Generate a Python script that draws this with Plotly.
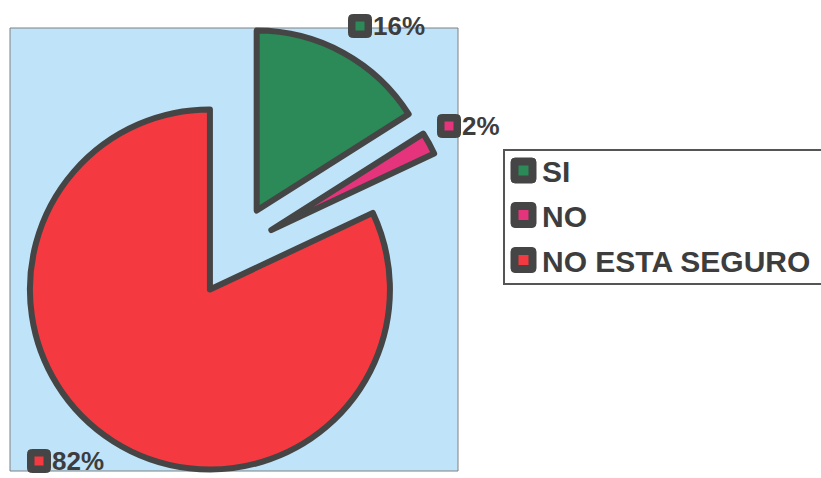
import plotly.graph_objects as go

W, H = 821, 478

labels = ["SI", "NO", "NO ESTA SEGURO"]
values = [16, 2, 82]
colors = ["#2b8a57", "#e5347b", "#f43a40"]
pulls = [0.25, 0.23, 0.26]

OUTLINE = "#454545"
TEXT = "#3d3d3d"
BG = "#bfe3f8"
FONT = "Liberation Sans, Arial, sans-serif"

def px(x):
    return x / W

def py(y):
    return 1 - y / H

fig = go.Figure()

fig.add_trace(go.Pie(
    labels=labels,
    values=values,
    sort=False,
    direction="clockwise",
    rotation=0,
    pull=pulls,
    textinfo="none",
    hoverinfo="label+percent",
    marker=dict(colors=colors, line=dict(color=OUTLINE, width=6)),
    domain=dict(x=[px(8.2), px(461.8)], y=[py(476.8), py(23.2)]),
    showlegend=False,
))

shapes = []
annotations = []

# plot area background
shapes.append(dict(type="rect", xref="paper", yref="paper", layer="below",
                   x0=px(10), x1=px(458), y0=py(471), y1=py(28),
                   fillcolor=BG, line=dict(color="#808080", width=1)))

def marker_box(cx, cy, color, size=24, inner=10):
    h = size / 2
    r = 4
    x0, x1, y0, y1 = cx - h, cx + h, cy - h, cy + h
    path = (f"M{px(x0 + r)},{py(y0)} L{px(x1 - r)},{py(y0)} Q{px(x1)},{py(y0)} {px(x1)},{py(y0 + r)} "
            f"L{px(x1)},{py(y1 - r)} Q{px(x1)},{py(y1)} {px(x1 - r)},{py(y1)} "
            f"L{px(x0 + r)},{py(y1)} Q{px(x0)},{py(y1)} {px(x0)},{py(y1 - r)} "
            f"L{px(x0)},{py(y0 + r)} Q{px(x0)},{py(y0)} {px(x0 + r)},{py(y0)} Z")
    shapes.append(dict(type="path", xref="paper", yref="paper", layer="above",
                       path=path, fillcolor=OUTLINE, line=dict(color=OUTLINE, width=1)))
    hi = inner / 2
    shapes.append(dict(type="rect", xref="paper", yref="paper", layer="above",
                       x0=px(cx - hi), x1=px(cx + hi), y0=py(cy + hi), y1=py(cy - hi),
                       fillcolor=color, line=dict(width=0)))

# percentage labels
label_pos = [(360, 26), (449, 126), (39, 461)]
for (cx, cy), v, c in zip(label_pos, values, colors):
    marker_box(cx, cy, c, size=23, inner=9)
    annotations.append(dict(xref="paper", yref="paper", x=px(cx + 12), y=py(cy),
                            xanchor="left", yanchor="middle", showarrow=False,
                            borderpad=0,
                            text=f"<b>{v}%</b>",
                            font=dict(family=FONT, size=26, color=TEXT)))

# legend
shapes.append(dict(type="rect", xref="paper", yref="paper", layer="above",
                   x0=px(504), x1=px(823), y0=py(284), y1=py(150),
                   fillcolor="white", line=dict(color="#555555", width=2)))
legend_y = [170.5, 215, 260]
for ly, lab, c in zip(legend_y, labels, colors):
    marker_box(523.5, ly, c, size=25, inner=10)
    annotations.append(dict(xref="paper", yref="paper", x=px(540), y=py(ly + 1),
                            xanchor="left", yanchor="middle", showarrow=False,
                            text=f"<b>{lab}</b>",
                            font=dict(family=FONT, size=30, color=TEXT)))

fig.update_layout(
    width=W, height=H,
    margin=dict(l=0, r=0, t=0, b=0),
    paper_bgcolor="white",
    plot_bgcolor="white",
    shapes=shapes,
    annotations=annotations,
    showlegend=False,
)

fig.write_html("out.html", config={"displayModeBar": False},
               post_script="document.body.style.margin='0';document.body.style.overflow='hidden';")
